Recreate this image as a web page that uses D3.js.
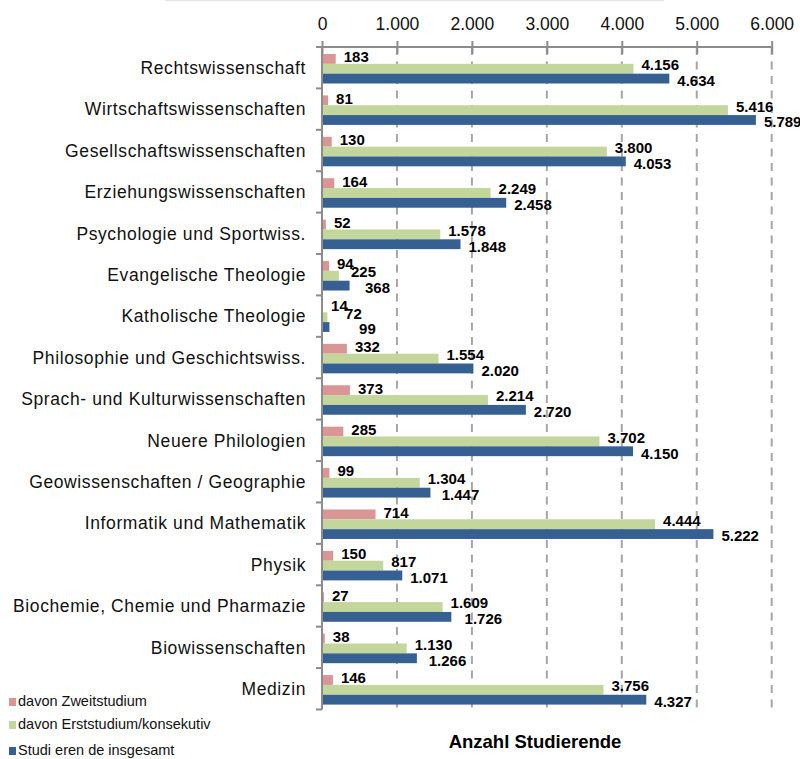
<!DOCTYPE html>
<html>
<head>
<meta charset="utf-8">
<script src="https://cdn.jsdelivr.net/npm/d3@7"></script>
<style>
  html, body { margin: 0; padding: 0; background: #fff; }
  svg { display: block; font-family: "Liberation Sans", Arial, sans-serif; }
</style>
</head>
<body>
<svg id="chart" width="800" height="759"></svg>
<script>
const categories = [
  "Rechtswissenschaft",
  "Wirtschaftswissenschaften",
  "Gesellschaftswissenschaften",
  "Erziehungswissenschaften",
  "Psychologie und Sportwiss.",
  "Evangelische Theologie",
  "Katholische Theologie",
  "Philosophie und Geschichtswiss.",
  "Sprach- und Kulturwissenschaften",
  "Neuere Philologien",
  "Geowissenschaften / Geographie",
  "Informatik und Mathematik",
  "Physik",
  "Biochemie, Chemie und Pharmazie",
  "Biowissenschaften",
  "Medizin"
];
const zweitstudium = [183, 81, 130, 164, 52, 94, 14, 332, 373, 285, 99, 714, 150, 27, 38, 146];
const erststudium = [4156, 5416, 3800, 2249, 1578, 225, 72, 1554, 2214, 3702, 1304, 4444, 817, 1609, 1130, 3756];
const insgesamt = [4634, 5789, 4053, 2458, 1848, 368, 99, 2020, 2720, 4150, 1447, 5222, 1071, 1726, 1266, 4327];
const seriesNames = ["davon Zweitstudium", "davon Erststudium/konsekutiv", "Studierende insgesamt"];
const legendLabels = ["davon Zweitstudium", "davon Erststudium/konsekutiv", "Studi eren de insgesamt"];
const xTicks = [0, 1000, 2000, 3000, 4000, 5000, 6000];
const xTitle = "Anzahl Studierende";

const colors = ["#D99694", "#C3D69B", "#376092"];
const seriesValues = [zweitstudium, erststudium, insgesamt];

const loc = d3.formatLocale({decimal: ",", thousands: ".", grouping: [3], currency: ["", "€"]});
const fmt = loc.format(",d");

const svg = d3.select("#chart");

// light frame line at top
svg.append("line").attr("x1", 165).attr("x2", 664).attr("y1", 0.5).attr("y2", 0.5)
  .attr("stroke", "#e6e6e6").attr("stroke-width", 1.5);

const x = d3.scaleLinear().domain([0, 6000]).range([322, 771.7]);
const y0 = d3.scaleBand().domain(categories).range([47, 709.5]).padding(0);
const y1 = d3.scaleBand().domain(seriesNames).range([7, 36.5]).padding(0);

// gridlines
svg.append("g").selectAll("line").data(xTicks.filter(d => d > 0)).join("line")
  .attr("x1", d => x(d)).attr("x2", d => x(d))
  .attr("y1", 47).attr("y2", 709.5)
  .attr("stroke", "#a6a6a6").attr("stroke-width", 2)
  .attr("stroke-dasharray", "8,6.5");

// bars
const groups = svg.append("g").selectAll("g").data(categories).join("g")
  .attr("transform", d => `translate(0,${y0(d)})`);

seriesNames.forEach((s, si) => {
  groups.append("rect")
    .attr("x", x(0))
    .attr("y", y1(s))
    .attr("width", (d, i) => x(seriesValues[si][i]) - x(0))
    .attr("height", y1.bandwidth())
    .attr("fill", colors[si]);
});

// data labels (staggered to the right when they would collide)
const dyOff = [-2, -4, 2];
const labelX = categories.map((c, i) => {
  const xs = [];
  seriesValues.forEach((vals, si) => {
    let lx = x(vals[i]) + 8;
    if (si > 0) lx = Math.max(lx, xs[si - 1] + 14);
    xs.push(lx);
  });
  return xs;
});
seriesNames.forEach((s, si) => {
  groups.append("text")
    .attr("x", (d, i) => labelX[i][si])
    .attr("y", y1(s) + y1.bandwidth() / 2 + dyOff[si])
    .attr("dy", "0.36em")
    .attr("font-size", 15).attr("font-weight", "bold").attr("fill", "#000")
    .text((d, i) => fmt(seriesValues[si][i]));
});

// top axis
const xAxis = svg.append("g").attr("transform", "translate(0,47)")
  .call(d3.axisTop(x).tickValues(xTicks).tickFormat(fmt).tickSizeInner(6).tickSizeOuter(0));
xAxis.select(".domain").remove();
xAxis.selectAll(".tick line").attr("y1", 7).attr("y2", -6).attr("stroke", "#8c8c8c").attr("stroke-width", 2);
xAxis.selectAll(".tick text").attr("y", -17).attr("font-size", 17.5)
  .attr("font-family", "Liberation Sans, Arial, sans-serif").attr("fill", "#111");
svg.append("line").attr("x1", 316).attr("x2", x(6000)).attr("y1", 47).attr("y2", 47)
  .attr("stroke", "#8c8c8c").attr("stroke-width", 2);

// left axis
svg.append("line").attr("x1", 322).attr("x2", 322).attr("y1", 47).attr("y2", 709.5)
  .attr("stroke", "#8c8c8c").attr("stroke-width", 2);
const boundaries = categories.map(c => y0(c)).concat([y0.range()[1]]);
svg.append("g").selectAll("line").data(boundaries).join("line")
  .attr("x1", 316).attr("x2", 322).attr("y1", d => d).attr("y2", d => d)
  .attr("stroke", "#8c8c8c").attr("stroke-width", 2);

svg.append("g").selectAll("text").data(categories).join("text")
  .attr("x", 306).attr("y", d => y0(d) + y0.bandwidth() / 2)
  .attr("dy", "0.36em").attr("text-anchor", "end")
  .attr("font-size", 17.5).attr("letter-spacing", "0.6px").attr("fill", "#111")
  .text(d => d);

// axis title
svg.append("text").attr("x", 535).attr("y", 748).attr("text-anchor", "middle")
  .attr("font-size", 18.5).attr("font-weight", "bold").attr("fill", "#000")
  .text(xTitle);

// legend
const legBase = [706, 729, 755];
const leg = svg.append("g").selectAll("g").data(legendLabels).join("g");
leg.append("rect").attr("x", 9).attr("y", (d, i) => legBase[i] - 8)
  .attr("width", 7).attr("height", 8).attr("fill", (d, i) => colors[i]);
leg.append("text").attr("x", 18).attr("y", (d, i) => legBase[i])
  .attr("font-size", 14.5).attr("fill", "#111").text(d => d);
</script>
</body>
</html>
